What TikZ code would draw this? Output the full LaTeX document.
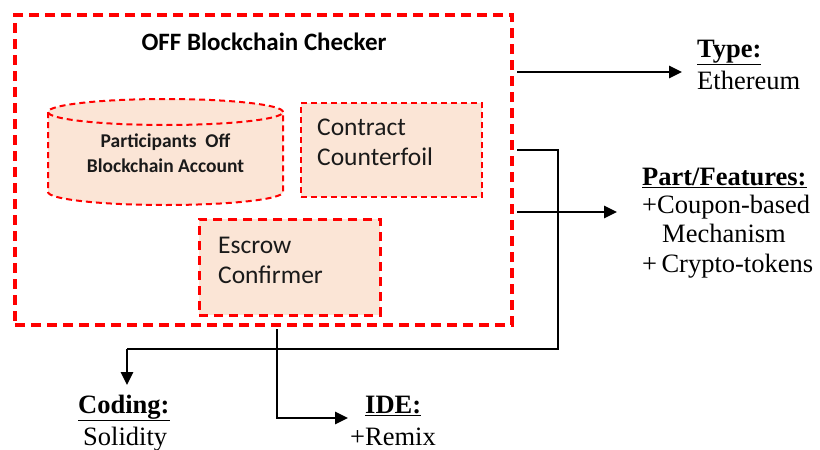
\documentclass[tikz,border=0pt]{standalone}
\usepackage{fontspec}
\setmainfont{Liberation Serif}
\newfontfamily\calib{Carlito}
\usetikzlibrary{arrows.meta}
\definecolor{boxred}{HTML}{FF0000}
\definecolor{peach}{HTML}{FBE5D6}
\definecolor{ink}{HTML}{1A1A1A}

\begin{document}
\begin{tikzpicture}[x=1pt,y=1pt,
  frame/.style={draw=boxred, line width=4pt, dash pattern=on 10pt off 6pt,
    rectangle, inner sep=0pt},
  partbox/.style={draw=boxred, fill=peach, line width=2pt,
    dash pattern=on 6pt off 4pt, rectangle, inner sep=0pt},
  escbox/.style={partbox, line width=3pt, dash pattern=on 9pt off 6pt},
  cyl/.style={draw=boxred, line width=2pt, dash pattern=on 6pt off 4pt},
  link/.style={line width=2.6pt, -{Triangle[length=13pt,width=12pt]}},
  sanslab/.style={font=\calib\fontsize{25.5}{30}\selectfont, text=ink,
    anchor=base west, inner sep=0pt},
  cyllab/.style={font=\calib\bfseries\fontsize{19.5}{25}\selectfont, text=ink,
    anchor=base, inner sep=0pt},
  head/.style={font=\bfseries\fontsize{26.5}{30}\selectfont,
    anchor=base west, inner sep=0pt},
  body/.style={font=\fontsize{26.5}{30}\selectfont,
    anchor=base west, inner sep=0pt},
]
\useasboundingbox (0,0) rectangle (820,-450);
\fill[white] (0,0) rectangle (820,-450);

% outer checker frame and its title
\node[frame, minimum width=497pt, minimum height=310pt] (outer) at (263.5,-170) {};
\node[font=\calib\bfseries\fontsize{25}{28}\selectfont, anchor=base, inner sep=0pt]
  (title) at (264,-50) {OFF Blockchain Checker};

% participants account store (cylinder)
\fill[peach] (48,-112) -- (48,-192)
  arc[start angle=180, end angle=360, x radius=117.5, y radius=13]
  -- (283,-112)
  arc[start angle=0, end angle=180, x radius=117.5, y radius=13] -- cycle;
\draw[cyl] (165.5,-112) ellipse[x radius=117.5, y radius=13];
\draw[cyl] (48,-112) -- (48,-192)
  arc[start angle=180, end angle=360, x radius=117.5, y radius=13]
  -- (283,-112);
\node[cyllab] (acct1) at (165.5,-147) {Participants\ \ Off};
\node[cyllab] (acct2) at (165.5,-172) {Blockchain Account};

% contract counterfoil
\node[partbox, minimum width=181pt, minimum height=94pt] (contract) at (391.5,-150) {};
\node[sanslab] (contract1) at (317,-135) {Contract};
\node[sanslab] (contract2) at (317,-165) {Counterfoil};

% escrow confirmer
\node[escbox, minimum width=181pt, minimum height=96pt] (escrow) at (289.5,-267) {};
\node[sanslab] (escrow1) at (218,-253) {Escrow};
\node[sanslab] (escrow2) at (218,-283) {Confirmer};

% type
\node[head] (type) at (697,-57) {\underline{Type:}};
\node[body] (eth) at (697,-89) {Ethereum};

% parts / features
\node[head] (feat) at (642,-185) {\underline{Part/Features:}};
\node[body] (feat1) at (642,-213) {+Coupon-based};
\node[body] (feat2) at (662,-242) {Mechanism};
\node[body] (feat3) at (642,-272) {+\,Crypto-tokens};

% coding language
\node[head] (coding) at (78,-413) {\underline{Coding:}};
\node[body] (solid) at (83,-445) {Solidity};

% IDE
\node[head] (ide) at (365,-413) {\underline{IDE:}};
\node[body] (remix) at (350,-445) {+Remix};

% connectors
\coordinate (typeend) at (682,-72);
\coordinate (featend) at (617,-212);
\coordinate (codeend) at (127,-385);
\coordinate (ideend) at (348,-418);

\draw[link] (outer.east |- typeend) ++(3,0) -- (typeend);
\draw[link] (outer.east |- featend) ++(3,0) -- (featend);
\draw[line width=2.6pt] (outer.east |- 0,-150) ++(3,0) -- (558,-150) -- (558,-349)
  -- (codeend |- 0,-349);
\draw[link] (codeend |- 0,-349) -- (codeend);
\draw[link] (outer.south -| 277,0) ++(0,-2) -- (277,-418) -- (ideend);
\end{tikzpicture}
\end{document}
